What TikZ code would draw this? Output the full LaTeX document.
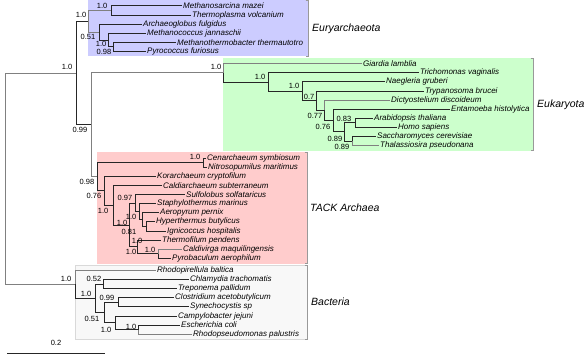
\documentclass[tikz,border=0pt]{standalone}
\usepackage{fontspec}
\setmainfont{Liberation Sans}
\usepackage{xcolor}
\usepackage{tikz}
\usetikzlibrary{positioning}

\definecolor{euryfill}{RGB}{204,204,255}
\definecolor{eukfill}{RGB}{204,255,204}
\definecolor{tackfill}{RGB}{255,204,204}
\definecolor{bactfill}{RGB}{248,248,248}

\begin{document}
\begin{tikzpicture}[
  x=1pt, y=-1pt,
  br/.style={draw=black!85, line width=1pt},
  brg/.style={draw=black!50, line width=1pt},
  leaf/.style={anchor=west, inner sep=1pt, font=\fontsize{8}{9}\selectfont\itshape},
  sup/.style={anchor=east, inner sep=0.5pt, font=\fontsize{7.5}{8}\selectfont},
  grp/.style={anchor=west, inner sep=0pt, font=\fontsize{10.5}{12}\selectfont\itshape},
  bracket/.style={draw=black!40, line width=0.9pt}
]
\useasboundingbox (0,0) rectangle (586,361);

% clade boxes
\fill[euryfill] (88,0.5) rectangle (308,56.5);
\fill[eukfill] (223,58.2) rectangle (533,150.6);
\fill[tackfill] (97,152.2) rectangle (307,263.6);
\filldraw[fill=bactfill, draw=black!15, line width=0.5pt] (75,265) rectangle (307,339.2);
\draw[bracket] (305.5,0.5) -- (308,0.5) -- (308,56.5) -- (305.5,56.5);
\draw[bracket] (530.5,58.2) -- (533,58.2) -- (533,150.6) -- (530.5,150.6);
\draw[bracket] (304.5,152.2) -- (307,152.2) -- (307,263.6) -- (304.5,263.6);
\draw[bracket] (304.5,265) -- (307,265) -- (307,339.2) -- (304.5,339.2);

\coordinate (eurymid) at (308,28.5);
\coordinate (eukmid) at (533,104.4);
\coordinate (tackmid) at (307,207.9);
\coordinate (bactmid) at (307,302.1);
\node[grp, right=4pt of eurymid] (eury) {Euryarchaeota};
\node[grp, right=4pt of eukmid] (euk) {Eukaryota};
\node[grp, right=3pt of tackmid] (tack) {TACK Archaea};
\node[grp, right=4pt of bactmid] (bact) {Bacteria};

% internal nodes
\coordinate (R) at (5,178.8);
\coordinate (U0) at (76,73.1);
\coordinate (U1) at (91,124.8);
\coordinate (E0) at (88,21.35);
\coordinate (N1) at (111,10.55);
\coordinate (N2) at (99,32.15);
\coordinate (N3) at (108,40.1);
\coordinate (N4) at (113,46.95);
\coordinate (K0) at (223,72.87);
\coordinate (KA) at (268,82.04);
\coordinate (KB) at (302,91.28);
\coordinate (KC) at (316,100.67);
\coordinate (KD) at (324,110.34);
\coordinate (KE) at (333,120.58);
\coordinate (KH) at (344,131.95);
\coordinate (KF) at (355,122.85);
\coordinate (KG) at (352,141.05);
\coordinate (T0) at (97,176.8);
\coordinate (Th) at (203,162.75);
\coordinate (T1) at (104,190.8);
\coordinate (T2) at (113,205.25);
\coordinate (T3) at (129,225);
\coordinate (S) at (135,203.1);
\coordinate (D1) at (139,211.65);
\coordinate (D2) at (142,219.6);
\coordinate (D3) at (146,226.45);
\coordinate (Tf) at (137,246.9);
\coordinate (P) at (158,253.75);
\coordinate (B0) at (75,284.45);
\coordinate (B1) at (95,298.4);
\coordinate (B2) at (103,284.15);
\coordinate (B3) at (104,312.6);
\coordinate (B4) at (118,302.35);
\coordinate (B5) at (115,322.8);
\coordinate (B6) at (138,329.65);

% leaves
\node[leaf] (m1) at (182,6) {Methanosarcina mazei};
\node[leaf] (m2) at (191,15.1) {Thermoplasma volcanium};
\node[leaf] (m3) at (142,24.2) {Archaeoglobus fulgidus};
\node[leaf] (m4) at (146,33.3) {Methanococcus jannaschii};
\node[leaf] (m5) at (176,42.4) {Methanothermobacter thermautotro};
\node[leaf] (m6) at (146,51.5) {Pyrococcus furiosus};
\node[leaf] (k1) at (362,63.7) {Giardia lamblia};
\node[leaf] (k2) at (419,72.8) {Trichomonas vaginalis};
\node[leaf] (k3) at (385,81.9) {Naegleria gruberi};
\node[leaf] (k4) at (424,91) {Trypanosoma brucei};
\node[leaf] (k5) at (390,100.1) {Dictyostelium discoideum};
\node[leaf] (k6) at (450,109.2) {Entamoeba histolytica};
\node[leaf] (k7) at (373,118.3) {Arabidopsis thaliana};
\node[leaf] (k8) at (397,127.4) {Homo sapiens};
\node[leaf] (k9) at (376,136.5) {Saccharomyces cerevisiae};
\node[leaf] (k10) at (379,145.6) {Thalassiosira pseudonana};
\node[leaf] (t1) at (206,158.2) {Cenarchaeum symbiosum};
\node[leaf] (t2) at (207,167.3) {Nitrosopumilus maritimus};
\node[leaf] (t3) at (156,176.4) {Korarchaeum cryptofilum};
\node[leaf] (t4) at (162,185.5) {Caldiarchaeum subterraneum};
\node[leaf] (t5) at (185,194.6) {Sulfolobus solfataricus};
\node[leaf] (t6) at (156,203.7) {Staphylothermus marinus};
\node[leaf] (t7) at (159,212.8) {Aeropyrum pernix};
\node[leaf] (t8) at (155,221.9) {Hyperthermus butylicus};
\node[leaf] (t9) at (166,231) {Ignicoccus hospitalis};
\node[leaf] (t10) at (161,240.1) {Thermofilum pendens};
\node[leaf] (t11) at (182,249.2) {Caldivirga maquilingensis};
\node[leaf] (t12) at (171,258.3) {Pyrobaculum aerophilum};
\node[leaf] (b1) at (156,270.5) {Rhodopirellula baltica};
\node[leaf] (b2) at (189,279.6) {Chlamydia trachomatis};
\node[leaf] (b3) at (177,288.7) {Treponema pallidum};
\node[leaf] (b4) at (174,297.8) {Clostridium acetobutylicum};
\node[leaf] (b5) at (189,306.9) {Synechocystis sp};
\node[leaf] (b6) at (177,316) {Campylobacter jejuni};
\node[leaf] (b7) at (180,325.1) {Escherichia coli};
\node[leaf] (b8) at (192,334.2) {Rhodopseudomonas palustris};

% branches
\draw[brg] (R) |- (U0) (R) |- (B0);
\draw[br] (U0) |- (E0) (U0) |- (U1);
\draw[brg] (E0) |- (N1) (E0) |- (N2);
\draw[br] (N1) |- (m1.west) (N1) |- (m2.west);
\draw[br] (N2) |- (m3.west) (N2) |- (N3);
\draw[br] (N3) |- (m4.west) (N3) |- (N4);
\draw[br] (N4) |- (m5.west) (N4) |- (m6.west);
\draw[brg] (U1) |- (K0) (U1) |- (T0);
\draw[brg] (K0) |- (k1.west);
\draw[br] (K0) |- (KA);
\draw[br] (KA) |- (k2.west) (KA) |- (KB);
\draw[br] (KB) |- (k3.west) (KB) |- (KC);
\draw[br] (KC) |- (k4.west) (KC) |- (KD);
\draw[brg] (KD) |- (k5.west);
\draw[br] (KD) |- (KE);
\draw[br] (KE) |- (k6.west) (KE) |- (KH);
\draw[br] (KH) |- (KF) (KH) |- (KG);
\draw[br] (KF) |- (k7.west) (KF) |- (k8.west);
\draw[br] (KG) |- (k9.west);
\draw[brg] (KG) |- (k10.west);
\draw[br] (T0) |- (Th) (T0) |- (T1);
\draw[br] (Th) |- (t1.west) (Th) |- (t2.west);
\draw[br] (T1) |- (t3.west) (T1) |- (T2);
\draw[br] (T2) |- (t4.west) (T2) |- (T3);
\draw[br] (T3) |- (S) (T3) |- (Tf);
\draw[br] (S) |- (t5.west) (S) |- (D1);
\draw[br] (D1) |- (t6.west) (D1) |- (D2);
\draw[br] (D2) |- (t7.west) (D2) |- (D3);
\draw[br] (D3) |- (t8.west) (D3) |- (t9.west);
\draw[br] (Tf) |- (t10.west) (Tf) |- (P);
\draw[brg] (P) |- (t11.west);
\draw[br] (P) |- (t12.west);
\draw[brg] (B0) |- (b1.west);
\draw[br] (B0) |- (B1);
\draw[br] (B1) |- (B2) (B1) |- (B3);
\draw[br] (B2) |- (b2.west) (B2) |- (b3.west);
\draw[br] (B3) |- (B4) (B3) |- (B5);
\draw[br] (B4) |- (b4.west) (B4) |- (b5.west);
\draw[br] (B5) |- (b6.west) (B5) |- (B6);
\draw[br] (B6) |- (b7.west);
\draw[brg] (B6) |- (b8.west);

% support values
\node[sup] (sU0) at (73,67) {1.0};
\node[sup] (sU1) at (88,129.5) {0.99};
\node[sup] (sE0) at (87,15) {1.0};
\node[sup] (sN1) at (108,6) {1.0};
\node[sup] (sN2) at (96,37) {0.51};
\node[sup] (sN3) at (107,43.5) {1.0};
\node[sup] (sN4) at (112,52) {0.98};
\node[sup] (sK0) at (222,66.5) {1.0};
\node[sup] (sKA) at (266,77) {1.0};
\node[sup] (sKB) at (300,86) {1.0};
\node[sup] (sKC) at (315,96.5) {0.7};
\node[sup] (sKD) at (323,116) {0.77};
\node[sup] (sKE) at (331,126.5) {0.76};
\node[sup] (sKF) at (352,118.5) {0.83};
\node[sup] (sKH) at (343,138.5) {0.89};
\node[sup] (sKG) at (350,147) {0.89};
\node[sup] (sTh) at (201,157) {1.0};
\node[sup] (sT0) at (95,181.5) {0.98};
\node[sup] (sT1) at (102,196) {0.76};
\node[sup] (sT2) at (109,211) {1.0};
\node[sup] (sS) at (133,198) {0.97};
\node[sup] (sD1) at (137,216.5) {1.0};
\node[sup] (sT3) at (128,222.5) {1.0};
\node[sup] (sD2) at (137,232) {0.81};
\node[sup] (sD3) at (143,241) {1.0};
\node[sup] (sTf) at (137,252) {1.0};
\node[sup] (sP) at (156,250) {1.0};
\node[sup] (sB0) at (72,279) {1.0};
\node[sup] (sB1) at (92,294) {1.0};
\node[sup] (sB2) at (102,278.5) {0.52};
\node[sup] (sB3) at (100,318.5) {0.51};
\node[sup] (sB4) at (115,297.5) {0.99};
\node[sup] (sB5) at (112,329.5) {1.0};
\node[sup] (sB6) at (137,326.5) {1.0};

% scale bar
\coordinate (sbL) at (7,353);
\coordinate (sbR) at (105,353);
\draw[br] (sbL) -- (sbR);
\node[sup, anchor=south] (sbT) at (56,346) {0.2};
\end{tikzpicture}
\end{document}
